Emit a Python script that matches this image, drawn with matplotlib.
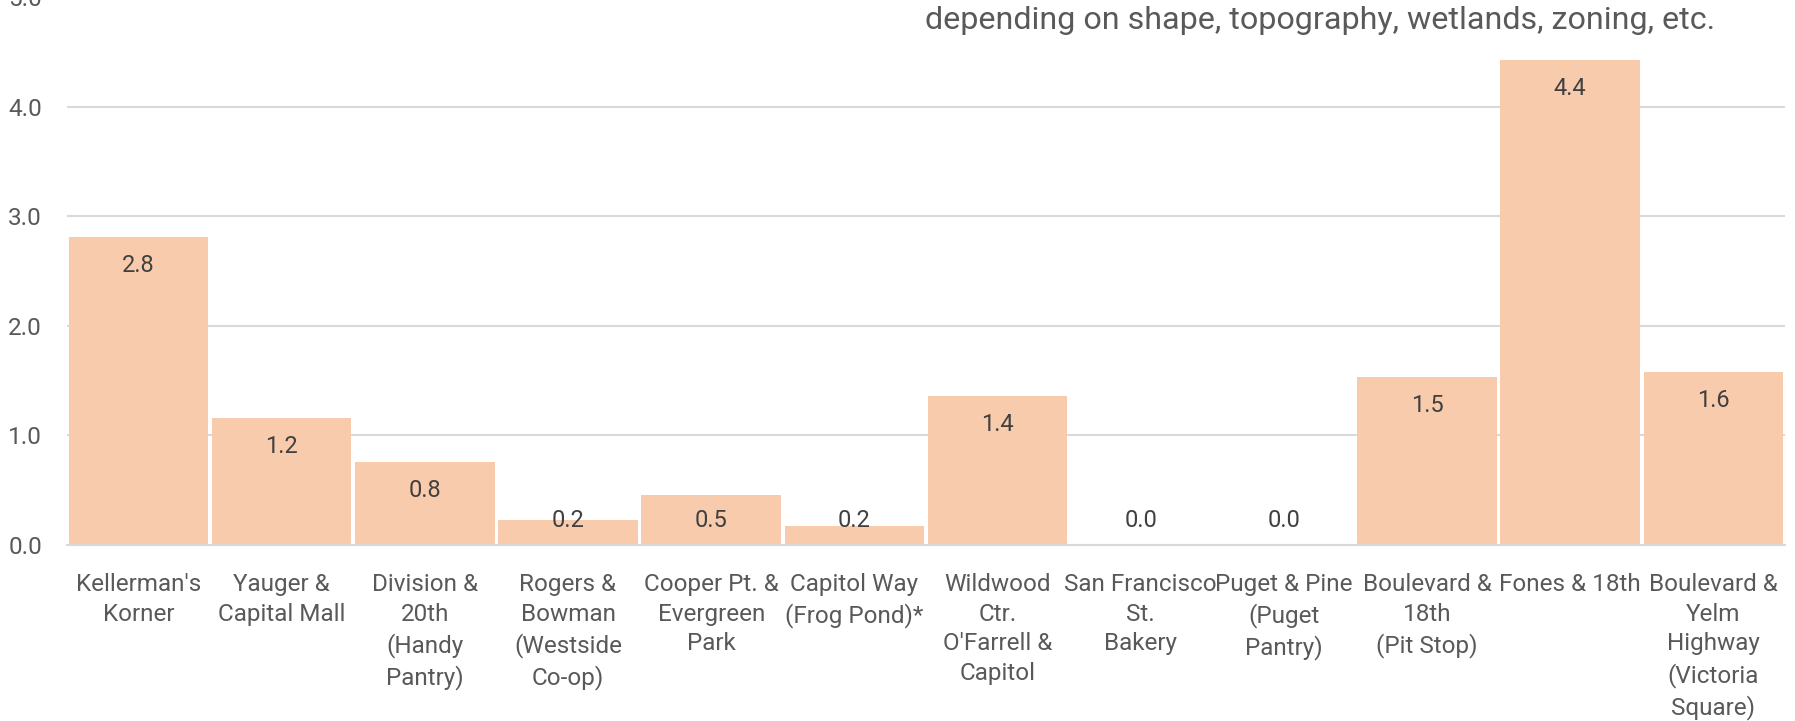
import matplotlib.pyplot as plt

plt.rcParams['font.family'] = ['Roboto', 'DejaVu Sans']

# sites and acreage values
sites = ["Kellerman's\nKorner", "Yauger &\nCapital Mall", "Division &\n20th\n(Handy\nPantry)",
         "Rogers &\nBowman\n(Westside\nCo-op)", "Cooper Pt. &\nEvergreen\nPark", "Capitol Way\n(Frog Pond)*",
         "Wildwood\nCtr.\nO'Farrell &\nCapitol", "San Francisco\nSt.\nBakery", "Puget & Pine\n(Puget\nPantry)",
         "Boulevard &\n18th\n(Pit Stop)", "Fones & 18th", "Boulevard &\nYelm\nHighway\n(Victoria\nSquare)"]
values = [2.81, 1.16, 0.76, 0.23, 0.46, 0.17, 1.36, 0.0, 0.0, 1.53, 4.43, 1.58]
yticks = [0.0, 1.0, 2.0, 3.0, 4.0, 5.0]

grey = '#595959'
fig = plt.figure(figsize=(17.95, 7.21), dpi=100)
ax = fig.add_axes([0.0373, 0.2441, 0.9571, 0.760])

x = range(len(sites))
ax.bar(x, values, width=0.975, color='#F8CBAD', zorder=2)

for i, v in enumerate(values):
    ax.text(i, max(v - 0.26, 0.22), f'{v:.1f}', ha='center', va='center',
            fontsize=17, color='#404040', zorder=3)

ax.set_xlim(-0.5, len(sites) - 0.5)
ax.set_ylim(0, 5)
ax.set_yticks(yticks)
ax.set_yticklabels([f'{t:.1f}' for t in yticks])
ax.set_xticks(list(x))
ax.set_xticklabels(sites, linespacing=1.38)
ax.tick_params(axis='both', length=0, colors=grey, labelsize=17.5)
ax.tick_params(axis='x', pad=20)
ax.tick_params(axis='y', pad=18)

ax.grid(axis='y', color='#d9d9d9', linewidth=1.5, zorder=0)
for s in ['top', 'right', 'left']:
    ax.spines[s].set_visible(False)
ax.spines['bottom'].set_color('#d9d9d9')
ax.spines['bottom'].set_linewidth(1.5)

fig.text(0.9555, 0.972, 'depending on shape, topography, wetlands, zoning, etc.',
         ha='right', va='center', fontsize=23.2, color=grey)

fig.savefig('out.png', dpi=100)
